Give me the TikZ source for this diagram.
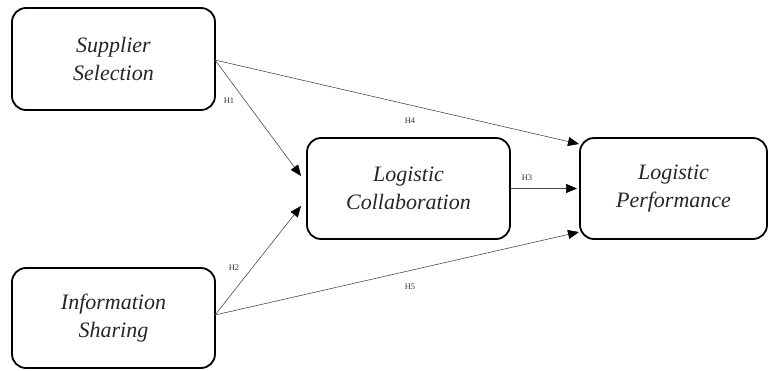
\documentclass[tikz,border=0pt]{standalone}
\usepackage{fontspec}
\setmainfont{Liberation Serif}
\usetikzlibrary{arrows.meta}
\begin{document}
\begin{tikzpicture}[x=1pt,y=-1pt,
  box/.style={draw=black,line width=1.8pt,rounded corners=14pt,fill=white,align=center,
    font=\fontsize{22}{28}\selectfont\itshape,text=black!85,inner sep=0pt},
  conn/.style={draw=black!70,line width=0.6pt,-{Triangle[length=11pt,width=9pt,color=black]}},
  lab/.style={font=\fontsize{8.5}{9}\selectfont,text=black!80}]
\useasboundingbox (0,0) rectangle (770,370);
\node[box,minimum width=203pt,minimum height=102pt] (ss) at (113.5,59) {Supplier\\Selection};
\node[box,minimum width=203pt,minimum height=100pt] (is) at (113.5,318) {Information\\Sharing};
\node[box,minimum width=203pt,minimum height=101pt] (lc) at (408.5,188.5) {Logistic\\Collaboration};
\node[box,minimum width=187pt,minimum height=101pt] (lp) at (673.5,188.5) {Logistic\\Performance};
\coordinate (ssr) at (215,60);
\coordinate (isr) at (215,315);
\coordinate (t1) at (301,176);
\coordinate (t4) at (579,144);
\coordinate (t2) at (301,206);
\coordinate (t5) at (579,232);
\coordinate (t3) at (577,188.5);
\draw[conn] (ssr) -- (t1);
\draw[conn] (ssr) -- (t4);
\draw[conn] (isr) -- (t2);
\draw[conn] (isr) -- (t5);
\draw[conn] (lc.east) -- (t3);
\node[lab] (h1) at (229,101) {H1};
\node[lab] (h4) at (410,121) {H4};
\node[lab] (h3) at (527,178) {H3};
\node[lab] (h2) at (234,268) {H2};
\node[lab] (h5) at (410,287) {H5};
\end{tikzpicture}
\end{document}
